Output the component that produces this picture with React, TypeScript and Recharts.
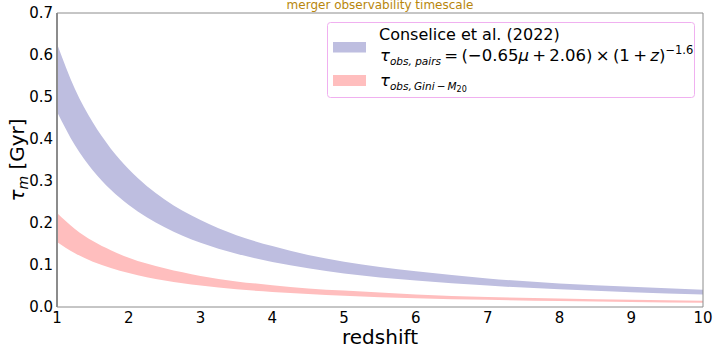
import React from 'react';
import { ComposedChart, Area, XAxis, YAxis, Customized } from 'recharts';

// ---- data ----
const redshift = [1, 1.25, 1.5, 1.75, 2, 2.5, 3, 3.5, 4, 4.5, 5, 6, 7, 8, 9, 10];
const pairsUpper = [0.627, 0.519, 0.439, 0.377, 0.328, 0.256, 0.207, 0.171, 0.145, 0.124, 0.108, 0.085, 0.068, 0.056, 0.048, 0.041];
const pairsLower = [0.465, 0.385, 0.325, 0.279, 0.243, 0.19, 0.153, 0.127, 0.107, 0.092, 0.08, 0.063, 0.051, 0.042, 0.035, 0.03];
const giniUpper = [0.224, 0.186, 0.157, 0.135, 0.117, 0.092, 0.074, 0.061, 0.052, 0.044, 0.039, 0.03, 0.024, 0.02, 0.017, 0.015];
const giniLower = [0.155, 0.128, 0.108, 0.093, 0.081, 0.063, 0.051, 0.042, 0.036, 0.031, 0.027, 0.021, 0.017, 0.014, 0.012, 0.01];

const xTicks = [1, 2, 3, 4, 5, 6, 7, 8, 9, 10];
const yTicks = [0, 0.1, 0.2, 0.3, 0.4, 0.5, 0.6, 0.7];
const xMinorTicks = Array.from({ length: 46 }, (_, i) => +(1 + i * 0.2).toFixed(2));
const yMinorTicks = Array.from({ length: 36 }, (_, i) => +(i * 0.02).toFixed(2));

const title = 'merger observability timescale';
const xLabel = 'redshift';

const data = redshift.map((z, i) => ({
  z,
  pairs: [pairsLower[i], pairsUpper[i]],
  gini: [giniLower[i], giniUpper[i]],
}));

const FONT = 'DejaVu Sans';
const AXIS = '#8c8c8c';
const BLUE = '#bebee0';
const PINK = '#ffbebe';
const TS = '\u2009';

const Overlay = () => (
  <g fontFamily={FONT}>
    <text x={380} y={9} textAnchor="middle" fontSize={12} fill="#b8860b">{title}</text>
    <text x={380} y={344} textAnchor="middle" fontSize={20} fill="#000">{xLabel}</text>
    <text transform="translate(24,160) rotate(-90)" textAnchor="middle" fontSize={20} fill="#000">
      <tspan fontStyle="italic">τ</tspan>
      <tspan fontStyle="italic" fontSize={14} dy={4}>m</tspan>
      <tspan dy={-4}> [Gyr]</tspan>
    </text>
    {/* legend */}
    <rect x={327.5} y={22.5} width={367} height={75} rx={3} fill="#fff" fillOpacity={0.85} stroke="#f0b0f0" strokeWidth={1} />
    <rect x={333} y={42} width={33} height={10.5} fill={BLUE} />
    <rect x={333} y={75} width={33} height={11} fill={PINK} />
    <text x={379} y={40} fontSize={16} fill="#000">Conselice et al. (2022)</text>
    <text x={380} y={61} fontSize={16.5} fill="#000">
      <tspan fontStyle="italic">τ</tspan>
      <tspan fontStyle="italic" fontSize={10.5} dy={4}>obs, pairs</tspan>
      <tspan dy={-4}>{`${TS}=${TS}(−0.65`}</tspan>
      <tspan fontStyle="italic">μ</tspan>
      <tspan>{`${TS}+${TS}2.06)${TS}×${TS}(1${TS}+${TS}`}</tspan>
      <tspan fontStyle="italic">z</tspan>
      <tspan>)</tspan>
      <tspan fontSize={11.5} dy={-7}>−1.6</tspan>
    </text>
    <text x={380} y={86} fontSize={16.5} fill="#000">
      <tspan fontStyle="italic">τ</tspan>
      <tspan fontStyle="italic" fontSize={10.5} dy={4}>{`obs,${TS}Gini${TS}−${TS}M`}</tspan>
      <tspan fontSize={8} dy={2}>20</tspan>
    </text>
  </g>
);

export default function App() {
  return (
    <div style={{ position: 'absolute', left: 0, top: 0, width: 718, height: 353, background: '#fff' }}>
      <ComposedChart width={718} height={353} data={data} margin={{ top: 13, right: 15, bottom: 0, left: 0 }}>
        <XAxis
          dataKey="z"
          type="number"
          domain={[1, 10]}
          ticks={xTicks}
          interval={0}
          allowDataOverflow
          height={46}
          tickLine={false}
          tickSize={0}
          tickMargin={5}
          axisLine={{ stroke: AXIS, strokeWidth: 1 }}
          tick={{ fill: '#000', fontSize: 15, fontFamily: FONT }}
        />
        <YAxis
          type="number"
          domain={[0, 0.7]}
          ticks={yTicks}
          interval={0}
          allowDataOverflow
          width={57}
          tickLine={false}
          tickSize={0}
          tickMargin={4}
          axisLine={{ stroke: AXIS, strokeWidth: 2 }}
          tickFormatter={(v: number) => v.toFixed(1)}
          tick={{ fill: '#000', fontSize: 15, fontFamily: FONT }}
        />
        {/* inward tick marks (matplotlib style) */}
        <XAxis xAxisId="bMaj" type="number" dataKey="z" domain={[1, 10]} ticks={xTicks} interval={0} mirror height={30} tick={false} axisLine={false} tickSize={3.5} tickLine={{ stroke: AXIS }} />
        <XAxis xAxisId="bMin" type="number" dataKey="z" domain={[1, 10]} ticks={xMinorTicks} interval={0} mirror height={30} tick={false} axisLine={false} tickSize={2} tickLine={{ stroke: AXIS }} />
        <XAxis xAxisId="tMaj" orientation="top" type="number" dataKey="z" domain={[1, 10]} ticks={xTicks} interval={0} mirror height={30} tick={false} axisLine={{ stroke: AXIS }} tickSize={3.5} tickLine={{ stroke: AXIS }} />
        <XAxis xAxisId="tMin" orientation="top" type="number" dataKey="z" domain={[1, 10]} ticks={xMinorTicks} interval={0} mirror height={30} tick={false} axisLine={false} tickSize={2} tickLine={{ stroke: AXIS }} />
        <YAxis yAxisId="lMaj" type="number" domain={[0, 0.7]} ticks={yTicks} interval={0} mirror width={60} tick={false} axisLine={false} tickSize={3.5} tickLine={{ stroke: AXIS }} />
        <YAxis yAxisId="lMin" type="number" domain={[0, 0.7]} ticks={yMinorTicks} interval={0} mirror width={60} tick={false} axisLine={false} tickSize={2} tickLine={{ stroke: AXIS }} />
        <YAxis yAxisId="rMaj" orientation="right" type="number" domain={[0, 0.7]} ticks={yTicks} interval={0} mirror width={60} tick={false} axisLine={{ stroke: AXIS }} tickSize={3.5} tickLine={{ stroke: AXIS }} />
        <YAxis yAxisId="rMin" orientation="right" type="number" domain={[0, 0.7]} ticks={yMinorTicks} interval={0} mirror width={60} tick={false} axisLine={false} tickSize={2} tickLine={{ stroke: AXIS }} />

        <Area type="monotone" dataKey="pairs" stroke="none" fill={BLUE} fillOpacity={1} isAnimationActive={false} />
        <Area type="monotone" dataKey="gini" stroke="none" fill={PINK} fillOpacity={1} isAnimationActive={false} />
        <Customized component={<Overlay />} />
      </ComposedChart>
    </div>
  );
}
